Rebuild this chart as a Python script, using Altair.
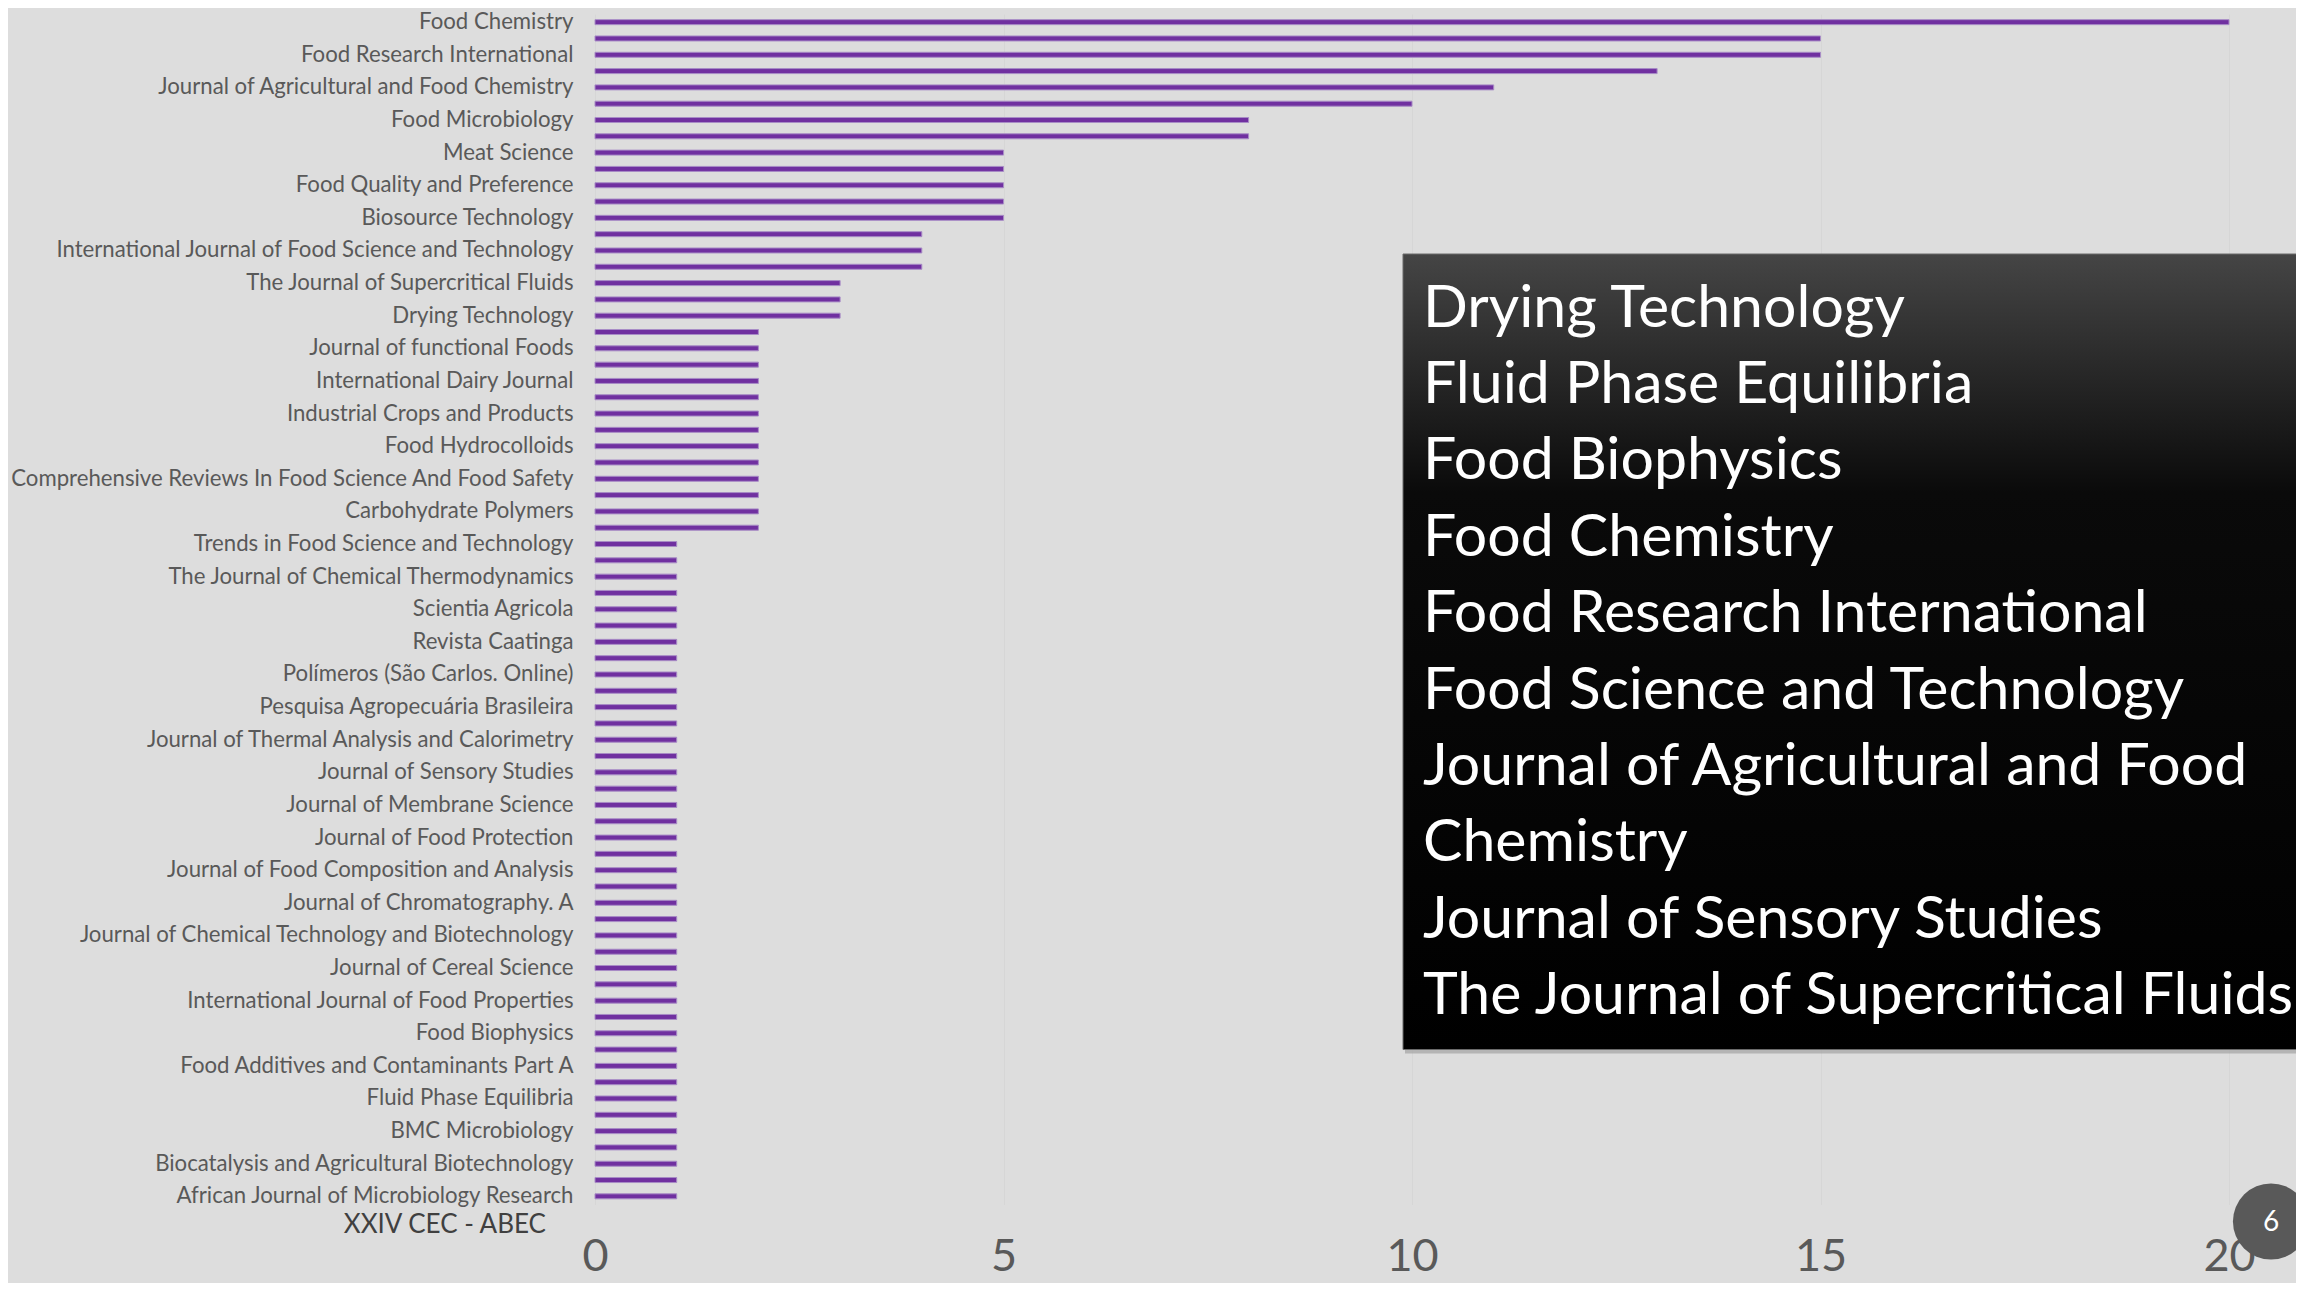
import altair as alt
import pandas as pd

# labelled journals (every second bar carries a label in the original)
labels = [
    "Food Chemistry",
    "Food Research International\u00a0",
    "Journal of Agricultural and Food Chemistry\u00a0",
    "Food Microbiology",
    "Meat Science",
    "Food Quality and Preference\u00a0",
    "Biosource Technology",
    "International Journal of Food Science and Technology",
    "The Journal of Supercritical Fluids",
    "Drying Technology",
    "Journal of functional Foods",
    "International Dairy Journal\u00a0",
    "Industrial Crops and Products",
    "Food Hydrocolloids",
    "Comprehensive Reviews In Food Science And Food Safety",
    "Carbohydrate Polymers",
    "Trends in Food Science and Technology\u00a0",
    "The Journal of Chemical Thermodynamics",
    "Scientia Agricola",
    "Revista Caatinga",
    "Polímeros (São Carlos. Online)",
    "Pesquisa Agropecuária Brasileira",
    "Journal of Thermal Analysis and Calorimetry",
    "Journal of Sensory Studies",
    "Journal of Membrane Science",
    "Journal of Food Protection",
    "Journal of Food Composition and Analysis",
    "Journal of Chromatography. A",
    "Journal of Chemical Technology and Biotechnology",
    "Journal of Cereal Science",
    "International Journal of Food Properties",
    "Food Biophysics",
    "Food Additives and Contaminants Part A",
    "Fluid Phase Equilibria",
    "BMC Microbiology",
    "Biocatalysis and Agricultural Biotechnology",
    "African Journal of Microbiology Research\u00a0",
]

# number of articles per bar, top to bottom (73 bars)
values = [
    20, 15, 15, 13, 11, 10, 8, 8, 5, 5,
    5, 5, 5, 4, 4, 4, 3, 3, 3, 2,
    2, 2, 2, 2, 2, 2, 2, 2, 2, 2,
    2, 2, 1, 1, 1, 1, 1, 1, 1, 1,
    1, 1, 1, 1, 1, 1, 1, 1, 1, 1,
    1, 1, 1, 1, 1, 1, 1, 1, 1, 1,
    1, 1, 1, 1, 1, 1, 1, 1, 1, 1,
    1, 1, 1,
]

x_ticks = [0, 5, 10, 15, 20]

box_lines = [
    "Drying Technology",
    "Fluid Phase Equilibria",
    "Food Biophysics",
    "Food Chemistry",
    "Food Research International",
    "Food Science and Technology",
    "Journal of Agricultural and Food",
    "Chemistry",
    "Journal of Sensory Studies",
    "The Journal of Supercritical Fluids",
]

footer = "XXIV CEC - ABEC"
slide_no = "6"

keys = []
for i in range(len(values)):
    if i % 2 == 0:
        keys.append(labels[i // 2])
    else:
        keys.append("#" + str(i))

df = pd.DataFrame({"journal": keys, "n": values})

FONT = "Lato"
GREY = "#595959"

bars = alt.Chart(df).mark_bar(
    color="#7030A0", stroke="#A88CC6", strokeWidth=1, size=5
).encode(
    x=alt.X(
        "n:Q",
        scale=alt.Scale(domain=[0, 20], nice=False, zero=True),
        axis=alt.Axis(
            values=x_ticks, title=None, grid=True, gridColor="#D6D6D6",
            gridWidth=1, domain=False, ticks=False, labelFontSize=45,
            labelColor=GREY, labelFont=FONT, labelFlush=False,
            labelBaseline="alphabetic", labelPadding=66, labelOverlap=False,
        ),
    ),
    y=alt.Y(
        "journal:N",
        sort=keys,
        scale=alt.Scale(paddingInner=0, paddingOuter=0),
        axis=alt.Axis(
            title=None, domain=False, ticks=False, grid=False,
            labelExpr="substring(datum.value, 0, 1) == '#' ? '' : datum.value",
            labelFontSize=22.2, labelColor=GREY, labelFont=FONT,
            labelPadding=22, labelLimit=0, labelOverlap=False,
        ),
    ),
)

anno = pd.DataFrame({"k": [0]})

shadow = alt.Chart(anno).mark_rect(color="#9A9A9A", opacity=0.6).encode(
    x=alt.value(810), x2=alt.value(1720), y=alt.value(242.5), y2=alt.value(1039.5)
)

box = alt.Chart(anno).mark_rect(
    color=alt.Gradient(
        gradient="linear",
        stops=[
            alt.GradientStop(color="#454545", offset=0),
            alt.GradientStop(color="#0A0A0A", offset=0.3),
            alt.GradientStop(color="#000000", offset=1),
        ],
        x1=0, x2=0, y1=0, y2=1,
    ),
    stroke="#6A6A6A", strokeWidth=1,
).encode(
    x=alt.value(808), x2=alt.value(1720), y=alt.value(240), y2=alt.value(1035.5)
)

box_text = alt.Chart(anno).mark_text(
    align="left", baseline="alphabetic", font=FONT, fontSize=59,
    color="white", lineHeight=76.4,
).encode(
    x=alt.value(828), y=alt.value(312.5), text=alt.value(box_lines)
)

footer_text = alt.Chart(anno).mark_text(
    align="right", baseline="middle", font=FONT, fontSize=26, color="#404040"
).encode(x=alt.value(-49), y=alt.value(1210.5), text=alt.value(footer))

circle = alt.Chart(anno).mark_point(
    shape="circle", filled=True, color=GREY, opacity=1, size=5800
).encode(x=alt.value(1676), y=alt.value(1207.5))

circle_text = alt.Chart(anno).mark_text(
    align="center", baseline="middle", font=FONT, fontSize=28, color="white"
).encode(x=alt.value(1676), y=alt.value(1208.5), text=alt.value(slide_no))

chart = alt.layer(
    bars, shadow, box, box_text, footer_text, circle, circle_text
).properties(
    width=1634, height=1190.5,
    autosize=alt.AutoSizeParams(type="none"),
    padding={"left": 587, "top": 6, "right": 67, "bottom": 78},
    background="#DDDDDD",
).configure_view(stroke=None)

chart.save("out.html", embed_options={"renderer": "svg", "actions": False})
